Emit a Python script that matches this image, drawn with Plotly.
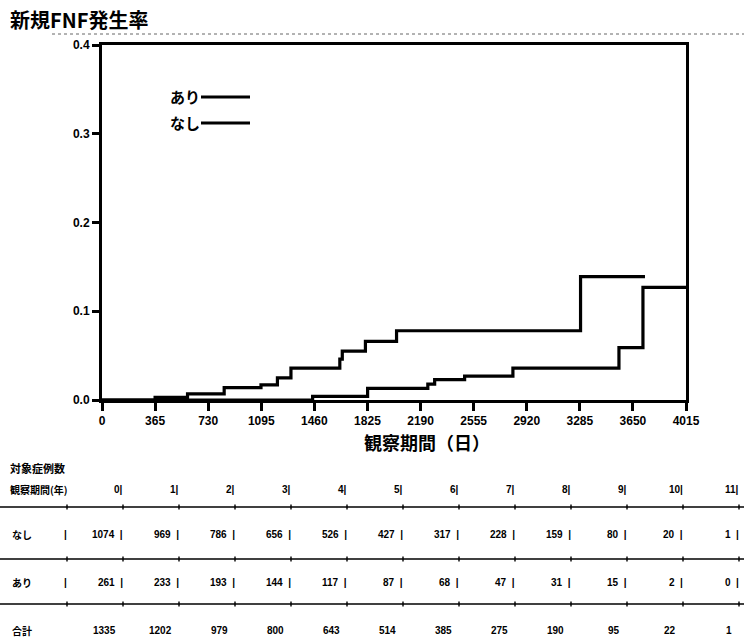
import plotly.graph_objects as go

# ---------------- data ----------------
days_ari = [0, 365, 588, 840, 1093, 1206, 1299, 1635, 1652, 1811, 2025, 3290, 3733]
rate_ari = [0, 0.003, 0.007, 0.014, 0.017, 0.025, 0.036, 0.046, 0.055, 0.066, 0.078, 0.139, 0.139]

days_nashi = [0, 1448, 1826, 2240, 2287, 2493, 2825, 3554, 3719, 4015]
rate_nashi = [0, 0.004, 0.013, 0.018, 0.023, 0.027, 0.036, 0.059, 0.127, 0.127]

x_ticks = [0, 365, 730, 1095, 1460, 1825, 2190, 2555, 2920, 3285, 3650, 4015]
y_ticks = [0.0, 0.1, 0.2, 0.3, 0.4]
y_tick_labels = ["0.0", "0.1", "0.2", "0.3", "0.4"]

years = list(range(12))
n_nashi = [1074, 969, 786, 656, 526, 427, 317, 228, 159, 80, 20, 1]
n_ari = [261, 233, 193, 144, 117, 87, 68, 47, 31, 15, 2, 0]
n_total = [1335, 1202, 979, 800, 643, 514, 385, 275, 190, 95, 22, 1]

title_text = "新規FNF発生率"
xtitle_text = "観察期間（日）"
legend_names = ["あり", "なし"]
table_title = "対象症例数"
table_header = "観察期間(年)"
row_labels = ["なし", "あり", "合計"]

# ---------------- layout geometry ----------------
W, H = 744, 643
L, R, T, B = 102, 58, 45, 243
PW, PH = W - L - R, H - T - B


def px(x):
    return (x - L) / PW


def py(y):
    return (H - B - y) / PH


CJK = "Noto Sans CJK JP"
NUM = "Liberation Sans"

fig = go.Figure()
fig.add_trace(go.Scatter(x=days_ari, y=rate_ari, mode="lines", line=dict(shape="hv", color="black", width=3.2),
                         name=legend_names[0], cliponaxis=False, showlegend=False))
fig.add_trace(go.Scatter(x=days_nashi, y=rate_nashi, mode="lines", line=dict(shape="hv", color="black", width=3.2),
                         name=legend_names[1], cliponaxis=False, showlegend=False))

annotations = []
shapes = []


def note(text, x, y, size, family, anchor="left"):
    annotations.append(dict(text=text, x=px(x), y=py(y), xref="paper", yref="paper",
                            xanchor=anchor, yanchor="middle", showarrow=False,
                            font=dict(family=family, size=size, color="black")))


# title
note("<b>%s</b>" % title_text, 8, 19, 20, CJK)
shapes.append(dict(type="line", xref="paper", yref="paper", x0=px(52), x1=px(744), y0=py(34), y1=py(34),
                   line=dict(color="#666", width=1, dash="dot")))

# legend
for name, yy in zip(legend_names, [96, 122]):
    note("<b>%s</b>" % name, 202, yy, 15, CJK, "right")
    shapes.append(dict(type="line", xref="paper", yref="paper", x0=px(201), x1=px(250), y0=py(yy + 1),
                       y1=py(yy + 1), line=dict(color="black", width=3)))

# x axis title
note("<b>%s</b>" % xtitle_text, 427, 442, 18, CJK, "center")

# table
bars = [67 + 56 * k for k in range(13)]
note("<b>%s</b>" % table_title, 8, 468, 11, CJK)
note("<b>%s</b>" % table_header, 8, 489, 10, CJK)
for i, yr in enumerate(years):
    note("<b>%d|</b>" % yr, bars[i + 1] + 2, 489, 10, NUM, "right")

row_y = [534, 582, 630]
for r, (lab, vals, yy) in enumerate(zip(row_labels, [n_nashi, n_ari, n_total], row_y)):
    note("<b>%s</b>" % lab, 10, yy, 10, CJK)
    if r < 2:
        note("<b>|</b>", bars[0] + 2, yy, 10, NUM, "right")
        for i, v in enumerate(vals):
            note("<b>%d  |</b>" % v, bars[i + 1] + 2, yy, 10, NUM, "right")
    else:
        for i, v in enumerate(vals):
            note("<b>%d</b>" % v, bars[i + 1] - 5, yy, 10, NUM, "right")

for ly in [507, 559, 604]:
    shapes.append(dict(type="line", xref="paper", yref="paper", x0=px(0), x1=px(744), y0=py(ly), y1=py(ly),
                       line=dict(color="black", width=1.4)))
    for bx in bars:
        shapes.append(dict(type="line", xref="paper", yref="paper", x0=px(bx), x1=px(bx), y0=py(ly - 2.5),
                           y1=py(ly + 2.5), line=dict(color="black", width=1.4)))

fig.update_layout(
    width=W, height=H,
    margin=dict(l=L, r=R, t=T, b=B, pad=0),
    paper_bgcolor="white", plot_bgcolor="white",
    showlegend=False,
    annotations=annotations,
    shapes=shapes,
    xaxis=dict(range=[0, 4015], tickvals=x_ticks, ticktext=["<b>%d</b>" % t for t in x_ticks],
               ticks="outside", ticklen=8, tickwidth=3, tickcolor="black",
               showline=True, linewidth=3, linecolor="black", mirror=True,
               showgrid=False, zeroline=False, tickfont=dict(family=NUM, size=12, color="black")),
    yaxis=dict(range=[0, 0.4], tickvals=y_ticks, ticktext=["<b>%s</b>" % t for t in y_tick_labels],
               ticks="outside", ticklen=7, tickwidth=3, tickcolor="black",
               showline=True, linewidth=3, linecolor="black", mirror=True,
               showgrid=False, zeroline=False, tickfont=dict(family=NUM, size=12, color="black")),
)

fig.write_html("out.html", config={"displayModeBar": False},
               post_script="document.body.style.margin='0';document.body.style.overflow='hidden';")
